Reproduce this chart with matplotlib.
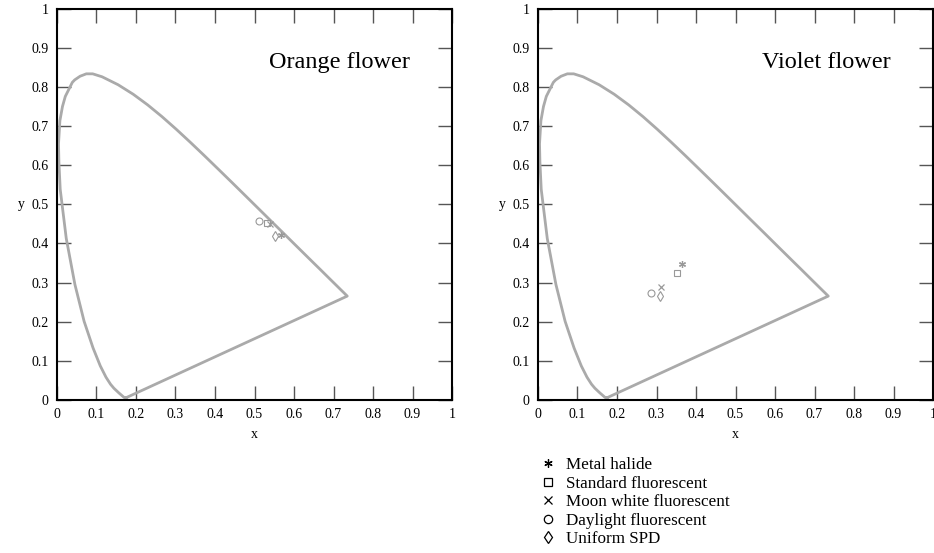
import matplotlib.pyplot as plt
from matplotlib.lines import Line2D

plt.rcParams['font.family'] = ['Liberation Serif', 'DejaVu Serif']

# CIE 1931 spectral locus (x, y), 380-700 nm
locus_x = [0.1741, 0.1733, 0.1714, 0.1689, 0.1644, 0.1566, 0.1440, 0.1355, 0.1241,
           0.1096, 0.0913, 0.0687, 0.0454, 0.0235, 0.0082, 0.0049, 0.0039, 0.0074,
           0.0139, 0.0211, 0.0389, 0.0449, 0.0584, 0.0743, 0.0904, 0.1142, 0.1547,
           0.1929, 0.2296, 0.2658, 0.3016, 0.3373, 0.3731, 0.4087, 0.4441, 0.4788,
           0.5125, 0.5448, 0.5752, 0.6029, 0.6270, 0.6482, 0.6658, 0.6915, 0.7079,
           0.7190, 0.7260, 0.7300, 0.7334, 0.7347]
locus_y = [0.0050, 0.0048, 0.0051, 0.0069, 0.0109, 0.0177, 0.0297, 0.0399, 0.0578,
           0.0868, 0.1327, 0.2007, 0.2950, 0.4127, 0.5384, 0.6078, 0.6548, 0.7140,
           0.7502, 0.7761, 0.8120, 0.8183, 0.8276, 0.8338, 0.8338, 0.8262, 0.8059,
           0.7816, 0.7543, 0.7243, 0.6923, 0.6589, 0.6245, 0.5896, 0.5547, 0.5202,
           0.4866, 0.4544, 0.4242, 0.3965, 0.3725, 0.3514, 0.3340, 0.3083, 0.2920,
           0.2809, 0.2740, 0.2700, 0.2666, 0.2653]

sources = ['Metal halide', 'Standard fluorescent', 'Moon white fluorescent',
           'Daylight fluorescent', 'Uniform SPD']
markers = [(6, 2, 0), 's', 'x', 'o', 'd']

# chromaticity of each flower under each source
orange_x = [0.566, 0.532, 0.538, 0.511, 0.552]
orange_y = [0.422, 0.453, 0.449, 0.458, 0.420]
violet_x = [0.365, 0.352, 0.311, 0.286, 0.309]
violet_y = [0.348, 0.325, 0.289, 0.274, 0.266]

fig = plt.figure(figsize=(9.34, 5.53), dpi=100)
ax1 = fig.add_axes([0.061, 0.277, 0.423, 0.707])
ax2 = fig.add_axes([0.576, 0.277, 0.423, 0.707])

ticks = [0, 0.1, 0.2, 0.3, 0.4, 0.5, 0.6, 0.7, 0.8, 0.9, 1]
tick_labels = ['0', '0.1', '0.2', '0.3', '0.4', '0.5', '0.6', '0.7', '0.8', '0.9', '1']

for ax, px, py, title in [(ax1, orange_x, orange_y, 'Orange flower'),
                          (ax2, violet_x, violet_y, 'Violet flower')]:
    ax.plot(locus_x + [locus_x[0]], locus_y + [locus_y[0]], color='#aaaaaa', lw=2.0,
            solid_joinstyle='round')
    for m, xv, yv in zip(markers, px, py):
        if m == 'x' or isinstance(m, tuple):
            ax.plot(xv, yv, marker=m, ms=5, mew=0.9, color='#999999', ls='none')
        else:
            ax.plot(xv, yv, marker=m, ms=5, mfc='none', mec='#999999', mew=0.8, ls='none')
    ax.set_xlim(0, 1)
    ax.set_ylim(0, 1)
    ax.set_xticks(ticks)
    ax.set_yticks(ticks)
    ax.set_xticklabels(tick_labels)
    ax.set_yticklabels(tick_labels)
    ax.tick_params(direction='in', length=10, width=1, color='#555555', top=True,
                   right=True, labelsize=10, pad=6)
    for s in ax.spines.values():
        s.set_linewidth(1.5)
    ax.set_xlabel('x', fontsize=10, labelpad=5)
    ax.set_ylabel('y', fontsize=10, rotation=0, labelpad=7, va='center')
    ax.text(0.893, 0.862, title, transform=ax.transAxes, ha='right', va='center',
            fontsize=17.5)

handles = []
for m in markers:
    if m == 'x' or isinstance(m, tuple):
        h = Line2D([], [], marker=m, ms=6, mew=0.9, color='black', ls='none')
    else:
        h = Line2D([], [], marker=m, ms=6, mfc='none', mec='black', mew=0.9, ls='none')
    handles.append(h)
fig.legend(handles, sources, loc='upper left', bbox_to_anchor=(0.579, 0.173),
           frameon=False, fontsize=12.3, handlelength=0.8, handletextpad=0.7,
           labelspacing=0.14, borderaxespad=0, borderpad=0)

fig.savefig('out.png', dpi=100)
